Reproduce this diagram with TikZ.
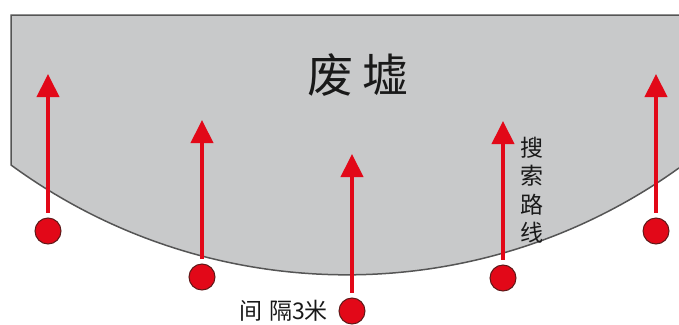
\documentclass[tikz,border=0pt]{standalone}
\usepackage{xcolor}
\usepackage{fontspec}
\usetikzlibrary{arrows.meta}
\newfontfamily\cjk{Noto Sans CJK SC}
\definecolor{ruin}{RGB}{200,201,202}
\definecolor{rimgray}{RGB}{85,85,85}
\definecolor{route}{RGB}{226,8,24}
\definecolor{dotrim}{RGB}{95,25,25}
\tikzset{
    searchpt/.style={circle,fill=route,draw=dotrim,line width=1pt,minimum size=26pt,inner sep=0pt},
    searchline/.style={route,line width=4pt,-{Triangle[width=22pt,length=23pt]},shorten <=5pt},
    label/.style={inner sep=0pt,text=black!90}
}

\begin{document}
\begin{tikzpicture}[x=1pt,y=-1pt]
        \useasboundingbox (0,0) rectangle (679,324);

        \filldraw[fill=ruin,draw=rimgray,line width=1.5pt] (679,15) -- (11,15) -- (11,165) arc (126.2:54.3:569);

        \foreach \n/\x/\y/\t in {1/48/231/74, 2/202/277/120, 3/352/311/154, 4/503/278/121, 5/656/231/74} {
            \node[searchpt] (p\n) at (\x,\y) {};
            \coordinate (t\n) at (\x,\t);
            \draw[searchline] (p\n) -- (t\n);
        }

        \node[label,font=\cjk\fontsize{46}{46}\selectfont] (ruins) at (358,75) {废\hspace{10pt}墟};
        \node[label,font=\cjk\fontsize{23}{28.5}\selectfont,align=center] (route) at (532,190) {搜\\索\\路\\线};
        \node[label,font=\cjk\fontsize{23}{23}\selectfont,anchor=east] (gap) at (328,311) {间\hspace{7pt}隔3米};
\end{tikzpicture}
\end{document}
